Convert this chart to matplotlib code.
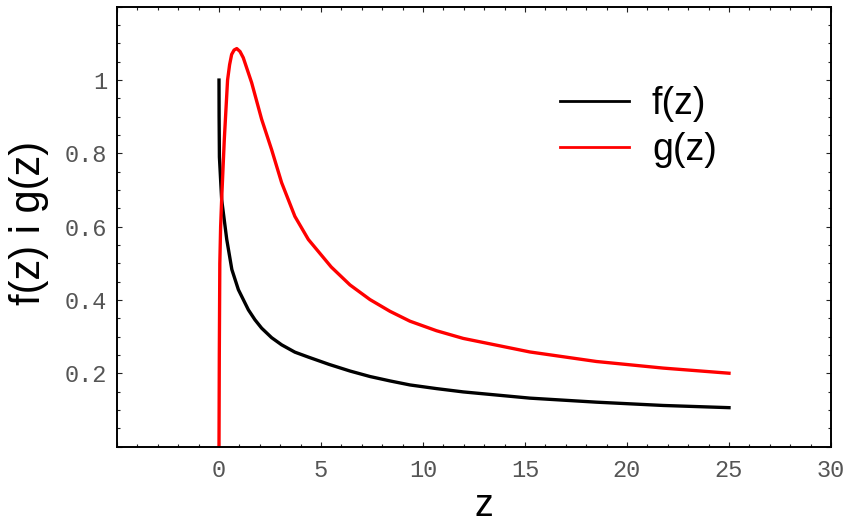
import matplotlib
matplotlib.use("Agg")
import matplotlib.pyplot as plt
from matplotlib.ticker import MultipleLocator, FuncFormatter

# wartosci
z_f = [0, 0.005, 0.02, 0.13, 0.38, 0.63, 0.95, 1.44, 1.76, 2.09, 2.58, 3.07,
       3.72, 4.38, 5.4, 6.42, 7.4, 8.38, 9.36, 10.66, 11.97, 15.24, 18.5,
       21.77, 25]
f_vals = [1.0, 0.9, 0.79, 0.674, 0.565, 0.483, 0.428, 0.373, 0.346, 0.323,
          0.297, 0.2775, 0.2575, 0.244, 0.224, 0.206, 0.191, 0.179, 0.168,
          0.158, 0.149, 0.132, 0.121, 0.112, 0.106]

z_g = [0, 0.015, 0.04, 0.08, 0.13, 0.26, 0.42, 0.52, 0.62, 0.74, 0.87, 1.03,
       1.19, 1.6, 2.09, 2.58, 3.07, 3.72, 4.38, 5.5, 6.42, 7.4, 8.38, 9.36,
       10.66, 11.97, 15.24, 18.5, 21.77, 25]
g_vals = [0.0, 0.25, 0.5, 0.6, 0.674, 0.838, 1.0, 1.042, 1.07, 1.082, 1.086,
          1.078, 1.061, 0.993, 0.893, 0.81, 0.72, 0.628, 0.565, 0.49, 0.441,
          0.401, 0.369, 0.342, 0.316, 0.295, 0.258, 0.232, 0.214, 0.2]

fig = plt.figure(figsize=(8.49, 5.25), dpi=100)
ax = fig.add_axes([117/849, 1 - 446.5/525, (831 - 117)/849, (446.5 - 6.8)/525])

ax.plot(z_f, f_vals, color='black', lw=2.4, label='f(z)', solid_joinstyle='round')
ax.plot(z_g, g_vals, color='#ff0000', lw=2.4, label='g(z)', solid_joinstyle='round')

ax.set_xlim(-5, 30)
ax.set_ylim(0, 1.2)

ax.xaxis.set_major_locator(MultipleLocator(5))
ax.xaxis.set_minor_locator(MultipleLocator(1))
ax.yaxis.set_major_locator(MultipleLocator(0.2))
ax.yaxis.set_minor_locator(MultipleLocator(0.05))


def fmt_x(v, pos):
    if v < -0.01:
        return ''
    return '%d' % round(v)


def fmt_y(v, pos):
    if v < 0.01 or v > 1.1:
        return ''
    if abs(v - 1) < 1e-6:
        return '1'
    return '%.1f' % v


ax.xaxis.set_major_formatter(FuncFormatter(fmt_x))
ax.yaxis.set_major_formatter(FuncFormatter(fmt_y))

ax.tick_params(which='both', direction='in', top=True, right=True, width=0.8,
               color='#222222')
ax.tick_params(which='major', length=3.8)
ax.tick_params(which='minor', length=2.4)
ax.tick_params(axis='x', which='major', pad=9)
ax.tick_params(axis='y', which='major', pad=7)
for lab in ax.get_xticklabels() + ax.get_yticklabels():
    lab.set_fontfamily('Liberation Mono')
    lab.set_fontsize(17)
    lab.set_color('#555555')

for s in ax.spines.values():
    s.set_linewidth(1.4)

fig.text(484/849, 1 - 506/525, 'z', family='Liberation Sans', fontsize=27,
         ha='center', va='center')
fig.text(29.5/849, 1 - 223/525, 'f(z) i g(z)', family='Liberation Sans',
         fontsize=30, rotation=90, ha='center', va='center')

leg = ax.legend(loc='upper left', bbox_to_anchor=(560/849, 1 - 86/525),
                bbox_transform=fig.transFigure, frameon=False,
                prop={'family': 'Liberation Sans', 'size': 27},
                handlelength=1.83, handletextpad=0.62, borderpad=0,
                borderaxespad=0, labelspacing=0.26)
for line in leg.get_lines():
    line.set_linewidth(2.0)

fig.savefig('out.png', dpi=100)
